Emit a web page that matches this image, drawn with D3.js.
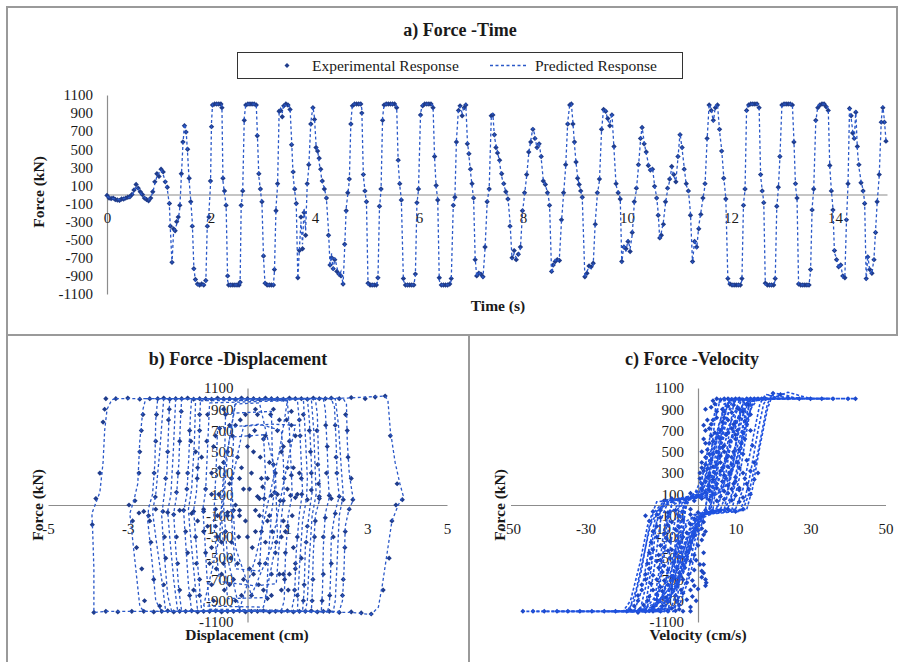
<!DOCTYPE html>
<html>
<head>
<meta charset="utf-8">
<script src="https://cdn.jsdelivr.net/npm/d3@7"></script>
<style>
  body { margin: 0; background: #fff; }
  svg text { font-family: "Liberation Serif", "Times New Roman", serif; fill: #1a1a1a; }
</style>
</head>
<body>
<svg id="chart" width="901" height="662"></svg>
<script>
// ---------- data: force time history ----------
const timeS = [
  0,.04,.08,.12,.16,.2,.24,.28,.32,.36,.4,.44,.48,.52,.56,.6,.64,.68,.72,.76,.8,.84,.88,.92,.96,1.0,1.04,1.08,1.12,1.16,1.2,
  1.22,1.25,1.28,1.31,1.34,1.37,1.40,1.43,1.46,1.49,1.52,1.55,1.58,1.61,1.64,1.67,1.70,1.74,1.78,1.82,1.86,1.90,1.93,1.96,1.99,
  2.01,2.03,2.07,2.11,2.15,2.19,2.21,2.23,2.26,2.29,2.32,2.34,2.38,2.42,2.46,2.50,2.54,2.56,2.58,2.61,2.64,
  2.67,2.71,2.75,2.79,2.83,2.87,2.89,2.92,2.95,2.98,3.01,3.04,3.08,3.12,3.16,3.20,3.22,3.25,3.28,3.31,
  3.34,3.37,3.40,3.44,3.48,3.52,3.55,3.58,3.61,3.64,3.67,3.70,3.73,3.76,3.79,3.82,3.85,3.88,3.92,3.96,3.99,
  4.02,4.05,4.08,4.11,4.14,4.18,4.22,4.26,4.29,4.32,4.35,4.38,4.42,4.46,4.50,4.54,4.57,4.60,4.63,4.66,4.69,
  4.72,4.76,4.80,4.84,4.88,4.90,4.93,4.96,4.99,5.02,5.06,5.10,5.14,5.18,5.21,5.24,5.27,5.30,
  5.33,5.37,5.41,5.45,5.49,5.53,5.57,5.60,5.63,5.66,5.70,5.74,5.78,5.82,5.86,5.90,5.93,5.96,5.99,6.03,
  6.07,6.11,6.15,6.19,6.23,6.27,6.30,6.33,6.36,6.39,6.43,6.47,6.51,6.55,6.59,6.62,6.66,6.69,6.72,
  6.76,6.79,6.83,6.87,6.90,6.93,6.96,6.99,7.02,7.05,7.08,7.11,7.15,7.19,7.23,7.27,7.31,7.35,
  7.39,7.42,7.45,7.48,7.51,7.55,7.59,7.63,7.67,7.71,7.75,7.79,7.83,7.87,7.91,7.95,7.99,
  8.03,8.07,8.11,8.15,8.19,8.23,8.27,8.31,8.35,8.39,8.43,8.47,8.51,8.55,8.58,
  8.62,8.66,8.70,8.74,8.78,8.82,8.86,8.90,8.93,8.96,8.99,9.02,9.05,9.08,9.11,9.14,
  9.19,9.23,9.27,9.31,9.35,9.39,9.43,9.47,9.51,9.55,9.59,9.63,9.67,9.71,9.75,9.79,9.83,9.87,
  9.90,9.94,9.98,10.02,10.06,10.10,10.14,10.18,10.22,10.26,10.29,10.33,10.37,10.41,10.45,10.49,10.53,10.57,10.60,10.63,
  10.66,10.70,10.74,10.78,10.82,10.86,10.90,10.94,10.98,11.02,11.06,11.10,11.14,11.18,11.22,11.26,
  11.30,11.34,11.38,11.42,11.46,11.50,11.54,11.58,11.62,11.66,11.70,11.74,11.78,11.82,11.86,11.90,11.94,
  11.98,12.02,12.06,12.10,12.14,12.18,12.21,12.24,12.27,12.30,12.34,12.38,12.42,12.46,12.50,12.54,12.57,12.60,12.63,
  12.66,12.70,12.74,12.78,12.82,12.85,12.88,12.91,12.94,12.98,13.02,13.06,13.10,13.14,13.18,13.21,13.24,13.27,
  13.30,13.34,13.38,13.42,13.46,13.50,13.53,13.56,13.59,13.63,13.67,13.71,13.75,13.79,13.83,13.87,13.90,13.93,
  13.96,13.99,14.03,14.07,14.11,14.15,14.19,14.22,14.25,14.28,14.31,14.34,14.37,14.40,14.43,14.46,14.50,14.54,14.57,
  14.60,14.63,14.67,14.71,14.75,14.78,14.81,14.85,14.89,14.92,14.95,14.98
];
const forcePredicted = [
  -20,-35,-40,-45,-50,-55,-60,-55,-45,-40,-35,-30,-10,40,90,60,20,-10,-30,-50,-60,-30,20,120,200,240,270,220,150,60,-120,
  -400,-760,-420,-380,-330,-280,-150,200,550,780,720,450,150,-60,-300,-800,-960,-1000,-1000,-1000,-1000,-980,-300,-200,100,
  800,1000,1000,1000,1000,1000,980,150,0,-100,-950,-1000,-1000,-1000,-1000,-1000,-1000,-980,-150,50,850,
  1000,1000,1000,1000,1000,1000,700,200,50,-100,-700,-1000,-1000,-1000,-1000,-1000,-850,-150,100,900,
  950,900,1000,980,1000,960,600,200,40,-120,-930,-600,-300,-550,-150,-400,100,300,800,970,850,
  550,500,350,250,120,80,-50,-400,-800,-650,-850,-700,-800,-900,-850,-1000,-600,-150,0,150,800,
  1000,1000,1000,1000,1000,950,200,50,-100,-1000,-1000,-1000,-1000,-1000,-950,-150,50,850,
  1000,1000,1000,1000,1000,1000,980,350,100,-50,-950,-1000,-1000,-1000,-1000,-1000,-900,-100,50,900,
  1000,1000,1000,1000,1000,980,400,80,-50,-950,-1000,-1000,-1000,-1000,-1000,-950,-100,-40,600,
  950,970,900,980,1000,600,430,250,100,-50,-700,-910,-850,-900,-920,-600,-100,80,
  850,900,640,550,480,350,200,100,40,-30,-300,-720,-650,-700,-680,-600,-200,
  0,200,450,600,735,650,500,580,400,160,100,30,-100,-870,-800,
  -720,-750,-700,-300,0,300,800,1000,1000,800,550,350,200,100,50,-40,
  -920,-850,-800,-820,-780,-300,0,150,700,950,930,820,780,900,500,100,30,-40,
  -760,-550,-630,-500,-600,-450,-100,50,300,600,750,580,450,350,250,300,100,-30,-200,-500,
  -420,-300,-100,50,150,300,200,150,400,680,500,300,100,50,-200,-760,
  -500,-600,-350,-200,-50,100,600,1000,950,800,980,1000,700,500,200,-40,-950,
  -1000,-1000,-1000,-1000,-1000,-1000,-950,-100,50,950,1000,1000,1000,1000,1000,980,200,50,-80,
  -1000,-1000,-1000,-1000,-1000,-950,-150,60,400,1000,1000,1000,1000,1000,1000,600,100,-50,
  -1000,-1000,-1000,-1000,-1000,-1000,-850,-150,50,800,980,1000,1000,1000,990,950,300,50,
  -150,-650,-700,-820,-760,-920,-900,-300,100,970,850,700,600,930,500,300,150,50,-80,
  -950,-670,-850,-880,-700,-400,-100,200,820,980,820,600
];
const forceMeasured = [
  -10,-40,-45,-40,-55,-60,-65,-50,-50,-40,-30,-25,0,50,110,70,30,0,-40,-55,-70,-40,30,140,230,200,280,250,140,80,-100,
  -350,-750,-380,-400,-300,-250,-120,230,580,760,690,500,180,-80,-350,-820,-940,-990,-1000,-990,-1000,-950,-350,-250,150,
  750,990,1000,1000,1000,1000,960,180,40,-120,-900,-1000,-1000,-1000,-1000,-1000,-1000,-970,-120,40,820,
  990,1000,1000,1000,1000,990,650,230,60,-80,-680,-980,-1000,-1000,-1000,-1000,-830,-180,120,920,
  930,860,980,1000,990,940,550,250,60,-100,-920,-620,-250,-600,-200,-450,120,330,780,960,830,
  520,480,400,280,150,60,-40,-450,-780,-700,-820,-720,-850,-880,-900,-990,-550,-180,20,170,780,
  980,1000,1000,1000,1000,900,220,40,-80,-980,-1000,-1000,-1000,-1000,-920,-130,60,820,
  990,1000,1000,1000,1000,1000,960,380,120,-60,-930,-1000,-1000,-1000,-1000,-1000,-880,-90,60,880,
  980,1000,1000,1000,1000,960,420,100,-60,-920,-1000,-1000,-1000,-1000,-990,-930,-120,-30,580,
  930,980,870,960,990,560,450,280,120,-40,-720,-900,-870,-880,-910,-580,-80,60,
  870,880,660,520,460,380,230,120,30,-50,-350,-700,-620,-720,-660,-580,-180,
  20,220,470,580,720,620,520,560,420,150,110,20,-120,-850,-780,
  -740,-720,-730,-280,20,330,780,990,1000,780,580,360,180,110,40,-30,
  -910,-870,-790,-800,-760,-330,20,170,720,940,920,840,760,880,530,120,20,-50,
  -740,-580,-600,-520,-630,-420,-80,70,330,620,740,560,470,320,270,280,90,-40,-230,-480,
  -450,-330,-80,70,170,310,220,140,420,660,520,280,120,40,-230,-740,
  -520,-580,-380,-220,-40,120,620,990,930,820,960,990,720,480,180,-50,-930,
  -990,-1000,-1000,-1000,-1000,-1000,-930,-120,60,930,990,1000,1000,1000,1000,960,220,40,-90,
  -980,-1000,-1000,-1000,-1000,-930,-130,80,420,990,1000,1000,1000,1000,990,580,120,-40,
  -990,-1000,-1000,-1000,-1000,-1000,-830,-170,60,820,960,990,1000,1000,970,930,320,40,
  -170,-620,-720,-800,-780,-900,-920,-280,120,950,870,680,620,910,530,330,130,40,-100,
  -930,-690,-830,-870,-720,-420,-80,220,800,960,800,590
];

// ---------- data: force-displacement loops (cm, kN pairs) ----------
const dispLoops = [
  [-3.3,1000, 0,1000, 2.5,1005, 3.45,1025, 3.52,980, 3.58,700, 3.7,400, 3.82,200, 3.9,90, 3.78,0, 3.62,-150, 3.5,-450, 3.38,-750, 3.28,-960, 3.1,-1030, 2.6,-1010, 0,-1000, -2.5,-1000, -3.5,-1000, -3.85,-1010, -3.85,-950, -3.85,-600, -3.88,-250, -3.9,-80, -3.8,20, -3.7,120, -3.62,400, -3.58,700, -3.52,900, -3.4,990, -3.3,1000],
  [-2.55,1000, 0,1000, 2.4,1000, 2.48,950, 2.5,600, 2.55,300, 2.62,120, 2.66,50, 2.55,-30, 2.45,-200, 2.42,-600, 2.38,-900, 2.3,-1000, 0,-1000, -2.6,-1000, -2.7,-950, -2.8,-600, -2.9,-250, -2.95,-80, -2.85,40, -2.75,200, -2.7,600, -2.62,900, -2.55,1000],
  [-2.25,1000, 2.1,1000, 2.18,920, 2.22,600, 2.25,250, 2.3,80, 2.2,-60, 2.1,-300, 2.08,-700, 2.05,-950, 2.0,-1000, -2.15,-1000, -2.3,-900, -2.4,-500, -2.5,-150, -2.48,-30, -2.38,100, -2.32,400, -2.3,800, -2.25,1000],
  [-2.1,1000, 2.2,1000, 2.28,750, 2.35,350, 2.4,90, 2.3,-100, 2.25,-500, 2.2,-900, 2.15,-1000, -2.05,-1000, -2.15,-700, -2.3,-300, -2.38,-60, -2.3,100, -2.2,500, -2.1,1000],
  [-1.95,1000, 1.9,1000, 1.95,900, 2.0,500, 2.03,200, 2.05,70, 1.95,-80, 1.9,-400, 1.88,-800, 1.85,-1000, -1.9,-1000, -2.0,-850, -2.1,-400, -2.15,-100, -2.1,60, -2.02,300, -1.98,700, -1.95,1000],
  [-1.8,1000, 1.6,1000, 1.66,700, 1.7,300, 1.72,100, 1.62,-100, 1.55,-500, 1.5,-900, 1.45,-1000, -1.75,-1000, -1.85,-700, -1.95,-300, -2.0,-60, -1.92,100, -1.86,500, -1.8,1000],
  [-1.65,1000, 1.7,1000, 1.75,850, 1.78,450, 1.82,150, 1.8,40, 1.7,-100, 1.65,-450, 1.62,-850, 1.6,-1000, -1.65,-1000, -1.72,-800, -1.8,-400, -1.85,-80, -1.78,80, -1.72,400, -1.68,800, -1.65,1000],
  [-1.4,1000, 1.5,1000, 1.55,800, 1.6,400, 1.62,120, 1.55,-60, 1.45,-400, 1.42,-800, 1.38,-1000, -1.4,-1000, -1.48,-750, -1.55,-350, -1.6,-60, -1.52,100, -1.47,450, -1.43,850, -1.4,1000],
  [-1.3,1000, 1.4,1000, 1.45,650, 1.5,250, 1.48,60, 1.38,-150, 1.3,-600, 1.25,-1000, -1.25,-1000, -1.35,-600, -1.45,-200, -1.48,-40, -1.4,150, -1.33,600, -1.3,1000],
  [-1.18,980, 1.25,990, 1.3,780, 1.35,380, 1.38,120, 1.3,-80, 1.22,-450, 1.18,-850, 1.1,-1000, -1.15,-990, -1.22,-700, -1.3,-300, -1.35,-50, -1.28,120, -1.22,500, -1.18,980],
  [-0.95,960, 1.0,980, 1.05,700, 1.1,300, 1.12,90, 1.02,-100, 0.95,-500, 0.92,-900, 0.85,-990, -0.95,-980, -1.02,-650, -1.08,-250, -1.12,-40, -1.05,130, -1.0,550, -0.95,960],
  [-0.75,720, 0.3,760, 0.85,700, 0.9,400, 0.92,100, 0.85,-120, 0.78,-450, 0.72,-740, 0.2,-760, -0.7,-720, -0.78,-450, -0.85,-150, -0.82,80, -0.78,400, -0.75,720],
  [-0.55,860, 0.6,880, 0.62,500, 0.68,150, 0.6,-80, 0.52,-500, 0.48,-870, -0.5,-880, -0.58,-500, -0.65,-120, -0.6,100, -0.57,500, -0.55,860],
  [-0.35,640, 0.4,660, 0.45,300, 0.42,50, 0.35,-250, 0.3,-620, -0.3,-600, -0.38,-250, -0.42,20, -0.38,300, -0.35,640],
  [-0.2,-980, 0.2,-500, 0.5,0, 0.8,500, 1.0,980, 0.4,990, -0.3,980, -0.5,500, -0.6,0, -0.5,-500, -0.2,-980],
  [0.1,-850, 0.6,-400, 0.9,200, 1.2,750, 0.6,760, -0.1,740, -0.4,200, -0.3,-400, 0.1,-850],
  [-1.1,-950, -0.7,-300, -0.6,300, -0.3,950, 0.3,960, 0.7,300, 0.75,-300, 0.4,-960, -1.1,-950]
];
const dispMarkers = [
  -3.55,1000, -3.3,1000, -3.0,1005, -2.7,995, -2.45,1000, -2.25,1000, -2.1,1005, -1.95,995, -1.8,1000, -1.65,1000, -1.5,1005, -1.35,995, -1.2,1000, -1.05,1000, -0.9,995, -0.75,1005, -0.6,1000, -0.45,1000, -0.3,995, -0.15,1005, 0,1000, 0.15,1000, 0.3,995, 0.45,1005, 0.6,1000, 0.75,1000, 0.9,995, 1.05,1005, 1.2,1000, 1.35,1000, 1.5,995, 1.65,1005, 1.8,1000, 1.95,1000, 2.1,1005, 2.3,1000, 2.6,1010, 2.95,1000, 3.2,1015, 3.45,1025,
  -3.85,-1010, -3.55,-1000, -3.25,-1005, -2.9,-1000, -2.6,-1000, -2.35,-1005, -2.15,-1000, -2.0,-995, -1.85,-1005, -1.7,-1000, -1.55,-1000, -1.4,-995, -1.25,-1005, -1.1,-1000, -0.95,-1000, -0.8,-995, -0.65,-1005, -0.5,-1000, -0.35,-1000, -0.2,-995, -0.05,-1005, 0.1,-1000, 0.25,-1000, 0.4,-995, 0.55,-1005, 0.7,-1000, 0.85,-1000, 1.0,-995, 1.15,-1005, 1.3,-1000, 1.45,-1000, 1.6,-995, 1.75,-1005, 1.9,-1000, 2.05,-1000, 2.3,-1010, 2.6,-1005, 2.85,-1015, 3.1,-1025,
  -3.89,-185, -3.8,60, -3.7,300, -3.62,780, -3.58,900, 3.75,200, 3.88,50, 3.72,0, 3.62,-150, 3.55,-500, 3.58,650, 3.4,-800,
  -2.97,0, -2.82,40, -2.72,-75, -2.58,-900, -2.65,-600, -2.7,500, -2.62,850, 2.64,50, 2.55,-40, 2.6,250, 2.5,700, 2.44,-400, 2.38,-850,
  -2.78,-400, -2.88,-150, -2.72,300, -2.66,700, 2.52,450, 2.46,850, 2.45,-250, 2.4,-700,
  -2.31,75, -2.45,-150, -2.35,-700, -2.3,600, 2.3,80, 2.22,450, 2.2,-80, 2.1,-550,
  -2.42,-350, -2.48,-100, -2.34,300, -2.28,850, -2.2,-950, 2.24,300, 2.2,750, 2.15,-300, 2.06,-850,
  -2.12,-60, -2.05,250, -2.05,-500, -1.98,800, 2.05,90, 2.0,550, 1.95,-120, 1.9,-650,
  -2.08,-300, -2.1,-750, -2.0,500, -1.96,900, 1.98,300, 1.96,750, 1.9,-300, 1.87,-900,
  -1.85,-90, -1.78,120, -1.75,-550, -1.7,600, 1.8,60, 1.76,380, 1.7,-150, 1.64,-700,
  -1.78,-300, -1.7,-800, -1.74,300, -1.66,880, 1.78,200, 1.74,700, 1.68,-300, 1.62,-900,
  -1.6,-50, -1.52,150, -1.5,-450, -1.45,700, 1.6,140, 1.58,500, 1.5,-200, 1.42,-750,
  -1.55,-250, -1.45,-850, -1.5,300, -1.42,600, 1.6,300, 1.55,700, 1.47,-350, 1.4,-900,
  -1.35,-60, -1.3,-300, -1.25,350, -1.2,850, 1.36,100, 1.32,650, 1.25,-300, 1.18,-800,
  -1.28,-550, -1.2,-850, -1.26,250, -1.2,700, 1.35,250, 1.3,800, 1.2,-600,
  -1.1,-40, -1.05,150, -1.02,600, -1.05,-450, 1.1,280, 1.08,90, 1.0,-200, 0.93,-700,
  -0.9,300, -0.8,-200, -0.85,550, -0.78,-600, -0.7,720, -0.72,100, -0.65,-350, -0.6,400, -0.58,-800, -0.55,850, -0.5,-100, -0.45,200, -0.42,-500, -0.38,650, -0.35,-700, -0.3,0, -0.25,450, -0.22,-300, -0.18,800, -0.15,-850, -0.1,150, -0.05,-150, 0,550, 0.05,-600, 0.1,300, 0.12,-400, 0.18,700, 0.2,-50, 0.25,80, 0.28,-750, 0.32,450, 0.35,-250, 0.4,620, 0.42,60, 0.45,-550, 0.5,250, 0.55,-100, 0.58,850, 0.6,-850, 0.65,380, 0.68,120, 0.72,-350, 0.75,700, 0.8,-650, 0.82,40, 0.85,500, 0.9,-150, 0.92,250, 0.95,-450, 0.98,800, 1.02,-800, 1.05,600, 1.12,-100, 1.15,350, 1.2,-550, 1.25,100,
  0.3,60, 0.6,90, 0.9,40, 1.2,70, 1.5,50, 1.8,80, 2.1,60, 2.4,50,
  -2.6,-60, -2.3,-40, -2.0,-70, -1.7,-50, -1.4,-80, -1.1,-60, -0.8,-40, -0.5,-70, -0.2,-50,
  -0.6,-550, -0.3,-900, 0.2,900, 0.5,-880, 0.7,300, 0.3,-100, -0.2,250, 0.85,-300, -0.75,-300, -0.45,750, 0.15,-650, 0.38,170, 0.62,-250, 1.0,150, -1.0,-200, -0.9,-750, 1.1,750,
  -1.2,-700, -1.15,450, -1.1,-250, -1.0,850, -0.95,-550, -0.9,100, -0.85,-900, -0.8,650, -0.75,-100, -0.7,350, -0.65,-650, -0.6,900, -0.55,-250, -0.5,500, -0.45,-750, -0.4,250, -0.35,-50, -0.3,750, -0.25,-550, -0.2,-100, -0.15,350, -0.1,-700, -0.05,850, 0.0,-300, 0.05,150, 0.1,-850, 0.15,500, 0.2,-250, 0.25,850, 0.3,-550, 0.35,250, 0.4,-800, 0.45,650, 0.5,-150, 0.55,400, 0.6,-650, 0.65,900, 0.7,-450, 0.75,100, 0.8,800, 0.85,-800, 0.9,550, 0.95,-250, 1.0,350, 1.05,-650, 1.1,880, 1.15,-400, 1.2,650, 1.25,-850, 1.3,300, 1.35,-500, 1.4,850, -1.3,500, -1.35,-800, -1.25,-150, 0.05,650, -0.4,-350, 0.45,-350, 0.9,-650, -0.9,-400
];

// ---------- data: force-velocity loops (cm/s, kN pairs) ----------
const velLoops = [
  [12,-50, 13.5,100, 16,500, 18.5,950, 20,1050, 23,1040, 26,1000, 42,1000, 22,1000, 15,990, 13,800, 10,400, 7,150, 4,80, -2,60, -9,40, -12,-80, -14,-400, -16.5,-800, -18.5,-1000, -30,-1000, -46.7,-1000, -25,-1000, -16,-1000, -10,-900, -6,-500, -3,-150, 0,-80, 6,-60, 12,-50],
  [10,-40, 12,150, 14.5,600, 16.5,950, 18,1040, 21,1020, 30,1000, 36,1000, 20,1000, 13,970, 11,700, 8,300, 5,100, 0,70, -8,50, -11,-60, -13,-400, -15,-800, -17,-1000, -28,-1000, -38,-1000, -22,-1000, -14,-980, -9,-750, -5,-300, -1,-90, 5,-50, 10,-40],
  [8,-30, 10,200, 12,600, 13.5,920, 15,1000, 24,1000, 14,990, 11,850, 8,500, 5,200, 2,80, -4,60, -9,20, -11,-150, -12.5,-600, -14,-950, -15,-1000, -22,-1000, -13,-1000, -8,-850, -4,-450, -1,-120, 3,-60, 8,-30],
  [6,-40, 8,150, 10,550, 11.5,900, 12.5,1000, 18,1000, 11,980, 9,800, 6,450, 3,150, 1,90, -3,50, -7,0, -9,-200, -10.5,-650, -12,-980, -13,-1000, -18,-1000, -11,-990, -6,-800, -3,-400, 0,-120, 3,-70, 6,-40],
  [5,-30, 6.5,200, 8,600, 9.5,950, 10.5,1000, 14,1000, 9,970, 7,750, 5,400, 2.5,160, 0.5,80, -3,40, -5.5,-40, -7,-300, -8.5,-700, -10,-1000, -14,-1000, -9,-970, -5,-700, -2,-300, 1,-110, 3,-60, 5,-30],
  [4,-40, 5,250, 6.5,700, 8,980, 11,1000, 7,950, 5,650, 3,300, 1,100, -2,70, -5,0, -6,-350, -7.5,-750, -9,-1000, -12,-1000, -7,-960, -4,-600, -1.5,-250, 1,-100, 4,-40],
  [3.5,-30, 4.5,300, 6,700, 7,780, 5.5,700, 4,450, 2,200, 0.5,100, -3,50, -5,-100, -6,-450, -7,-760, -5,-720, -2,-400, 0,-150, 2,-60, 3.5,-30],
  [3,-30, 4,250, 5,600, 6,700, 4,600, 2.5,350, 1,150, -2,80, -4,-50, -5,-400, -6,-700, -4,-650, -1.5,-350, 1,-100, 3,-30],
  [7,-40, 9,300, 11,750, 12.5,900, 10,880, 7,650, 4,300, 1.5,100, -4,50, -8,-100, -9.5,-500, -11,-880, -8,-900, -4,-650, -1,-250, 2,-90, 7,-40],
  [2,-40, 3,200, 4,500, 2.5,450, 1,250, -1,100, -3,30, -4,-200, -5,-500, -3,-480, -1,-250, 1,-80, 2,-40],
  [9,-50, 11,250, 13,700, 14.5,1000, 17,1000, 12,960, 9.5,700, 6.5,350, 3,120, -5,60, -10,-30, -12,-300, -13.5,-700, -15.5,-1000, -19,-1000, -12,-980, -7,-750, -3,-350, 0,-100, 5,-60, 9,-50],
  [11,-60, 12.5,50, 14,300, 16,700, 17.5,950, 19,1030, 22,1000, 27,1000, 17,1000, 14,970, 12,750, 9,350, 6,130, 3,70, -6,50, -10,-20, -13,-200, -15,-600, -17,-900, -19,-1000, -24,-1000, -17,-1000, -11,-950, -6,-600, -2,-200, 1,-90, 11,-60],
  [7,-50, 9,100, 11,450, 12.5,850, 13.5,1000, 20,1000, 13,1000, 10.5,800, 8,450, 5,180, 2,90, -3,70, -8,30, -10,-150, -11.5,-550, -13,-900, -14,-1000, -20,-1000, -10,-990, -6,-750, -2.5,-350, 0.5,-100, 7,-50],
  [3,-50, 4.5,150, 5.5,500, 7,850, 8.5,1000, 12,1000, 7.5,950, 5.5,750, 3.5,450, 1.5,200, 0,100, -3,60, -4.5,-80, -5.5,-400, -7,-800, -8,-1000, -11,-1000, -6,-950, -3,-700, -1,-350, 1,-130, 3,-50],
  [5,-60, 7,200, 9,650, 10,850, 11.5,980, 15,1000, 10,990, 8,850, 6,550, 3.5,250, 1.5,110, -4,70, -7,10, -8,-250, -10,-700, -11,-950, -12,-1000, -15,-1000, -9,-980, -5.5,-750, -2.5,-450, 0,-180, 2,-70, 5,-60],
  [2,-50, 3,300, 4.5,800, 6,1000, 9,1000, 5,960, 3.5,700, 2,400, 0.5,150, -2,80, -3.5,-50, -4.5,-500, -5.5,-900, -6.5,-1000, -9,-1000, -5,-950, -2,-650, 0,-300, 1.5,-120, 2,-50],
  [13,-40, 14.5,150, 16.5,550, 18.5,900, 19.5,1000, 24,1060, 30,1000, 35,1000, 23,1000, 16,1000, 14,900, 11.5,550, 8,200, 4,100, -4,60, -11,30, -13.5,-200, -15.5,-550, -18,-900, -20,-1000, -33,-1000, -44,-1000, -20,-1000, -13,-1000, -8,-800, -4,-400, -1,-150, 4,-80, 13,-40]
];
const velMarkers = [
  42,1000, 40,1000, 36,1000, 33,1000, 30,1000, 27,1000, 24,1005, 22,1040, 20,1050,
  -46.7,-1000, -44,-1000, -41,-1000, -37.6,-1000, -34.7,-1000, -31.5,-1000, -28.3,-1000, -25,-1000, -22,-1000, -19,-1000, -16,-1010,
  4,980, 5,1000, 6,990, 7,1000, 8,1000, 9,995, 10,1000, 11,1000, 12,990, 13,1000, 14,1000, 15,1000, 16,1000, 17,1000, 18,1000,
  3.5,920, 5,880, 6.5,900, 8,930, 9,870, 10.5,910, 12,880, 13.5,940,
  2.5,800, 3.5,760, 5,820, 6.5,780, 8,800, 9.5,760, 11,820, 12.5,790,
  2,700, 3,720, 4.5,680, 6,700, 7.5,660, 9,720, 10.5,700, 12,680,
  1.5,620, 3,580, 4,600, 5.5,640, 7,560, 8.5,600, 10,620, 11.5,580,
  1,500, 2.5,520, 4,480, 5,500, 6.5,540, 8,460, 9.5,500, 11,520,
  1,400, 2,380, 3.5,420, 5,380, 6,400, 7.5,440, 9,380, 10.5,400, 13,420,
  0.5,300, 1.5,320, 3,280, 4.5,300, 6,320, 7,280, 8.5,300, 10,260, 12,300, 14,320,
  1,200, 2,220, 3,180, 5,200, 6.5,220, 8,180, 9.5,200, 11,160, 13,200, 15,240,
  -2,110, 0,90, 2,120, 4,100, 6,80, 8,110, 10,90, 12,70, 14,100,
  2,900, 4.5,950, 7,880, 9.5,940, 11,900, 13,950, 1.5,750, 4,800, 7,820, 10,780, 13,760, 14,850,
  2,580, 3.5,650, 6,620, 8,680, 10,660, 12.5,620, 14,700, 2,450, 3,480, 6,460, 7,500, 9,450, 12,480, 14.5,560,
  1,350, 2.5,340, 4,360, 6.5,350, 8,360, 11,350, 15,400, 0.5,250, 2.5,260, 4,240, 7.5,250, 10,220, 12.5,250, 16,300,
  1,150, 3,140, 5,160, 7,130, 9,150, 11,140, 13.5,150,
  -9,40, -7,60, -5,50, -3,60, -1,40, 1,60, 3,50, 5,40, 7,55, 9,45, 11,30,
  -12,-60, -10,-50, -8,-70, -6,-50, -4,-60, -2,-40, 0,-70, 2,-50, 4,-60, 6,-50, 8,-40, 10,-60, 12,-40,
  -13,-150, -10,-120, -7,-160, -4,-140, -1,-130, 1.5,-160,
  -12,-250, -9,-270, -6,-230, -3,-260, 0,-240, 2,-250,
  -12.5,-350, -10,-380, -7.5,-340, -5,-360, -2,-350, 1,-330,
  -13,-450, -10.5,-470, -8,-430, -6,-460, -3,-440, -1,-470, 1.5,-450,
  -13.5,-550, -11,-530, -9,-570, -6.5,-540, -4,-560, -2,-530, 0.5,-560,
  -14,-650, -12,-660, -9.5,-630, -7,-670, -5,-640, -2.5,-650, 1,-620, 2,-700,
  -15,-750, -12.5,-740, -10,-770, -8,-750, -5.5,-760, -3,-730, -1,-760, 2.2,-730,
  -16,-850, -13,-860, -11,-840, -8.5,-870, -6,-850, -4,-830, -1.5,-860,
  -17,-950, -14.5,-940, -12,-960, -9.5,-950, -7,-970, -5,-940, -2,-960,
  -14,-1000, -12,-1000, -10,-1000, -8,-1000, -6,-995, -4,-1000, -2,-1000,
  -14,-100, -11,-90, -8,-110, -5,-100, -2,-90, 1,-100, -11,-200, -8,-190, -5,-210, -2,-180, 1,-220,
  -11,-300, -8.5,-310, -4,-300, -1,-290, 1.5,-280, -12,-420, -9,-400, -7,-420, -4.5,-400, -2,-410, 0,-380,
  -12.5,-500, -10,-520, -7.5,-500, -5,-490, -3,-510, -0.5,-520, 1.5,-560, -13,-600, -10.5,-590, -8,-610, -5.5,-600, -3.5,-590, -1,-610, 1.5,-640,
  -14,-700, -11,-700, -9,-710, -6.5,-690, -4,-700, -1.5,-710, 1,-680, 2,-760, -15,-800, -12,-800, -9.5,-810, -7,-790, -4.5,-800, -2,-800, 0,-790,
  -16,-900, -13.5,-900, -11,-890, -8,-910, -5.5,-900, -3,-890, -0.5,-900, -18,-990, -15.5,-980, -13,-995, -10.5,-985, -8,-990, -5,-980
];

// ---------- axis ticks ----------
const forceTicks = [1100, 900, 700, 500, 300, 100, -100, -300, -500, -700, -900, -1100];
const timeTicks = [0, 2, 4, 6, 8, 10, 12, 14];
const dispTicks = [-5, -3, -1, 1, 3, 5];
const velTicks = [-50, -30, -10, 10, 30, 50];

// ---------- drawing ----------
const MARK = "#1f3c8c";
const LINE = "#2a58c8";
const MARK_C = "#1c46c2";
const LINE_C = "#1f52e0";
const AXIS = "#8c8c8c";
const svg = d3.select("#chart");

// panel frames
svg.append("rect").attr("x", 7).attr("y", 7).attr("width", 890).attr("height", 328)
  .attr("fill", "none").attr("stroke", "#9a9a9a").attr("stroke-width", 2);
svg.append("line").attr("x1", 7).attr("x2", 7).attr("y1", 335).attr("y2", 662)
  .attr("stroke", "#9a9a9a").attr("stroke-width", 2);
svg.append("line").attr("x1", 469).attr("x2", 469).attr("y1", 335).attr("y2", 662)
  .attr("stroke", "#9a9a9a").attr("stroke-width", 2);

const pairs = flat => d3.range(0, flat.length - 1, 2).map(i => [flat[i], flat[i + 1]]);
const diamond = r => `M0,${-r}L${r},0L0,${r}L${-r},0Z`;
const fmt = d => String(d);

function drawAxes(x, y, xTicks, yTicks) {
  const gy = svg.append("g").attr("transform", `translate(${x(0)},0)`)
    .call(d3.axisLeft(y).tickValues(yTicks).tickFormat(fmt).tickSize(0).tickSizeOuter(0).tickPadding(14));
  const gx = svg.append("g").attr("transform", `translate(0,${y(0)})`)
    .call(d3.axisBottom(x).tickValues(xTicks).tickFormat(fmt).tickSize(0).tickSizeOuter(0).tickPadding(18));
  for (const g of [gx, gy]) {
    g.select(".domain").attr("stroke", AXIS).attr("stroke-width", 1.2);
    g.selectAll("text").attr("font-size", 15).attr("fill", "#1a1a1a")
      .attr("font-family", '"Liberation Serif", serif');
  }
}

function title(text, cx, cy, size) {
  svg.append("text").attr("x", cx).attr("y", cy).attr("text-anchor", "middle")
    .attr("font-size", size).attr("font-weight", "bold").text(text);
}
function yTitle(text, cx, cy) {
  svg.append("text").attr("transform", `translate(${cx},${cy}) rotate(-90)`)
    .attr("text-anchor", "middle").attr("dy", "0.35em")
    .attr("font-size", 15.5).attr("font-weight", "bold").text(text);
}

// ----- a) Force - Time -----
const xa = d3.scaleLinear().domain([0, 15]).range([107, 887]);
const ya = d3.scaleLinear().domain([-1100, 1100]).range([294, 95]);
drawAxes(xa, ya, timeTicks, forceTicks);
title("a) Force -Time", 460, 36, 18);
yTitle("Force (kN)", 39, 192);
title("Time (s)", 498, 311, 15.5);

const nA = Math.min(timeS.length, forcePredicted.length, forceMeasured.length);
const seriesA = d3.range(nA).map(i => ({ t: timeS[i], p: forcePredicted[i], m: forceMeasured[i] }));
svg.append("g").selectAll("path").data(seriesA).join("path")
  .attr("d", diamond(2.7)).attr("fill", MARK)
  .attr("transform", d => `translate(${xa(d.t)},${ya(d.m)})`);
svg.append("path").datum(seriesA)
  .attr("d", d3.line().x(d => xa(d.t)).y(d => ya(d.p)))
  .attr("fill", "none").attr("stroke", LINE).attr("stroke-width", 1.3).attr("stroke-dasharray", "3,2.5");

// legend
const lg = svg.append("g");
lg.append("rect").attr("x", 237.5).attr("y", 52.5).attr("width", 445).attr("height", 26)
  .attr("fill", "#fff").attr("stroke", "#333").attr("stroke-width", 1);
lg.append("path").attr("d", diamond(2.5)).attr("fill", MARK).attr("transform", "translate(287,65.5)");
lg.append("text").attr("x", 312).attr("y", 70.5).attr("font-size", 15.5).text("Experimental Response");
lg.append("line").attr("x1", 490).attr("x2", 528).attr("y1", 65.5).attr("y2", 65.5)
  .attr("stroke", LINE).attr("stroke-width", 1.3).attr("stroke-dasharray", "3,2.5");
lg.append("text").attr("x", 535).attr("y", 70.5).attr("font-size", 15.5).text("Predicted Response");

// ----- b) Force - Displacement -----
const xb = d3.scaleLinear().domain([-5, 5]).range([48, 447]);
const yb = d3.scaleLinear().domain([-1100, 1100]).range([622, 388]);
drawAxes(xb, yb, dispTicks, forceTicks);
title("b) Force -Displacement", 238, 365, 18);
yTitle("Force (kN)", 38, 505);
title("Displacement (cm)", 247, 640, 15.5);

svg.append("g").selectAll("path").data(pairs(dispMarkers)).join("path")
  .attr("d", diamond(2.6)).attr("fill", MARK)
  .attr("transform", d => `translate(${xb(d[0])},${yb(d[1])})`);
svg.append("g").selectAll("path").data(dispLoops.map(pairs)).join("path")
  .attr("d", d3.line().x(d => xb(d[0])).y(d => yb(d[1])))
  .attr("fill", "none").attr("stroke", LINE).attr("stroke-width", 1.3).attr("stroke-dasharray", "3,2.5");

// ----- c) Force - Velocity -----
const xc = d3.scaleLinear().domain([-50, 50]).range([510.5, 885.5]);
const yc = d3.scaleLinear().domain([-1100, 1100]).range([622, 388]);
drawAxes(xc, yc, velTicks, forceTicks);
title("c) Force -Velocity", 692, 365, 18);
yTitle("Force (kN)", 500, 505);
title("Velocity (cm/s)", 698, 640, 15.5);

svg.append("g").selectAll("path").data(pairs(velMarkers)).join("path")
  .attr("d", diamond(2.5)).attr("fill", MARK_C)
  .attr("transform", d => `translate(${xc(d[0])},${yc(d[1])})`);
svg.append("g").selectAll("path").data(velLoops.map(pairs)).join("path")
  .attr("d", d3.line().x(d => xc(d[0])).y(d => yc(d[1])))
  .attr("fill", "none").attr("stroke", LINE_C).attr("stroke-width", 1.6).attr("stroke-dasharray", "3,2");
</script>
</body>
</html>
